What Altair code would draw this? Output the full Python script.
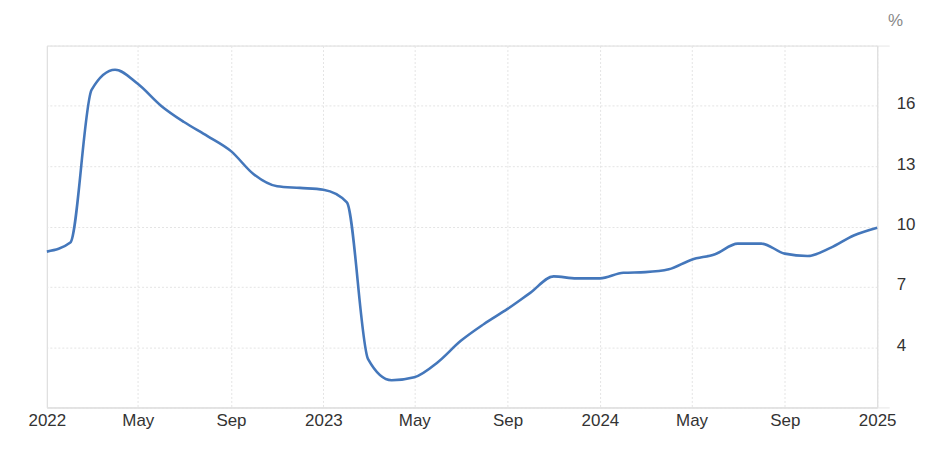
import altair as alt
import pandas as pd

months = pd.date_range("2022-01-01", "2025-01-01", freq="MS").strftime("%Y-%m-%d").tolist()
values = [8.75, 9.2, 16.8, 17.8, 17.1, 16.0, 15.2, 14.5, 13.75, 12.6, 12.0, 11.92,
          11.83, 11.2, 3.4, 2.35, 2.5, 3.25, 4.3, 5.15, 5.9, 6.7, 7.52, 7.42,
          7.42, 7.7, 7.73, 7.87, 8.35, 8.62, 9.15, 9.15, 8.65, 8.53, 8.95, 9.55, 9.94]
y_ticks = [1, 4, 7, 10, 13, 16, 19]
x_ticks = [(2022, 1), (2022, 5), (2022, 9), (2023, 1), (2023, 5), (2023, 9),
           (2024, 1), (2024, 5), (2024, 9), (2025, 1)]

df = pd.DataFrame({"date": months, "value": values})

FONT = "Liberation Sans"
GRID = "#e4e4e4"

x_vals = [alt.DateTime(year=y, month=m, date=1, utc=True) for y, m in x_ticks]

chart = alt.Chart(df).mark_line(
    interpolate="monotone", color="#4477bb", strokeWidth=2.6
).encode(
    x=alt.X(
        "date:T",
        scale=alt.Scale(type="utc", domain=[alt.DateTime(year=2022, month=1, date=1, utc=True),
                                            alt.DateTime(year=2025, month=1, date=1, utc=True)]),
        axis=alt.Axis(
            values=x_vals,
            title=None,
            labelExpr="utcmonth(datum.value) == 0 ? utcFormat(datum.value, '%Y') : utcFormat(datum.value, '%b')",
            labelFont=FONT, labelFontSize=17, labelColor="#333333",
            labelPadding=5, labelOverlap=False, labelBound=False, labelFlush=False,
            ticks=False, domain=True, domainColor="#e0e0e0", domainWidth=1.5,
            grid=True, gridColor=alt.ConditionalAxisColor(
                condition={"test": "utcyear(datum.value) == 2022 && utcmonth(datum.value) == 0", "value": "#e0e0e0"},
                value=GRID),
            gridDash=alt.ConditionalAxisNumberArray(
                condition={"test": "utcyear(datum.value) == 2022 && utcmonth(datum.value) == 0", "value": []},
                value=[2, 2]),
        ),
    ),
    y=alt.Y(
        "value:Q",
        scale=alt.Scale(domain=[1, 19], nice=False, zero=False),
        axis=alt.Axis(
            orient="right", values=y_ticks,
            labelExpr="datum.value == 1 || datum.value == 19 ? '' : datum.label",
            labelFont=FONT, labelFontSize=17, labelColor="#333333", labelPadding=7,
            labelOffset=-2,
            ticks=True, tickSize=12,
            tickColor=alt.ConditionalAxisColor(
                condition={"test": "datum.value == 1 || datum.value == 19", "value": "#e6e6e6"},
                value="transparent"),
            domain=True, domainColor="#e0e0e0", domainWidth=1.2,
            grid=True, gridColor=GRID, gridDash=[2, 2],
            title="%", titleAngle=0, titleFont=FONT, titleFontSize=17, titleFontWeight="normal",
            titleColor="#888888", titleAlign="center", titleBaseline="middle",
            titleX=18, titleY=-25,
        ),
    ),
).properties(
    width=833, height=363,
    autosize=alt.AutoSizeParams(type="none"),
    padding={"left": 39, "top": 37, "right": 60, "bottom": 40},
).configure_view(stroke=None).configure(background="white")

chart.save("out.html", embed_options={"renderer": "svg", "actions": False})
